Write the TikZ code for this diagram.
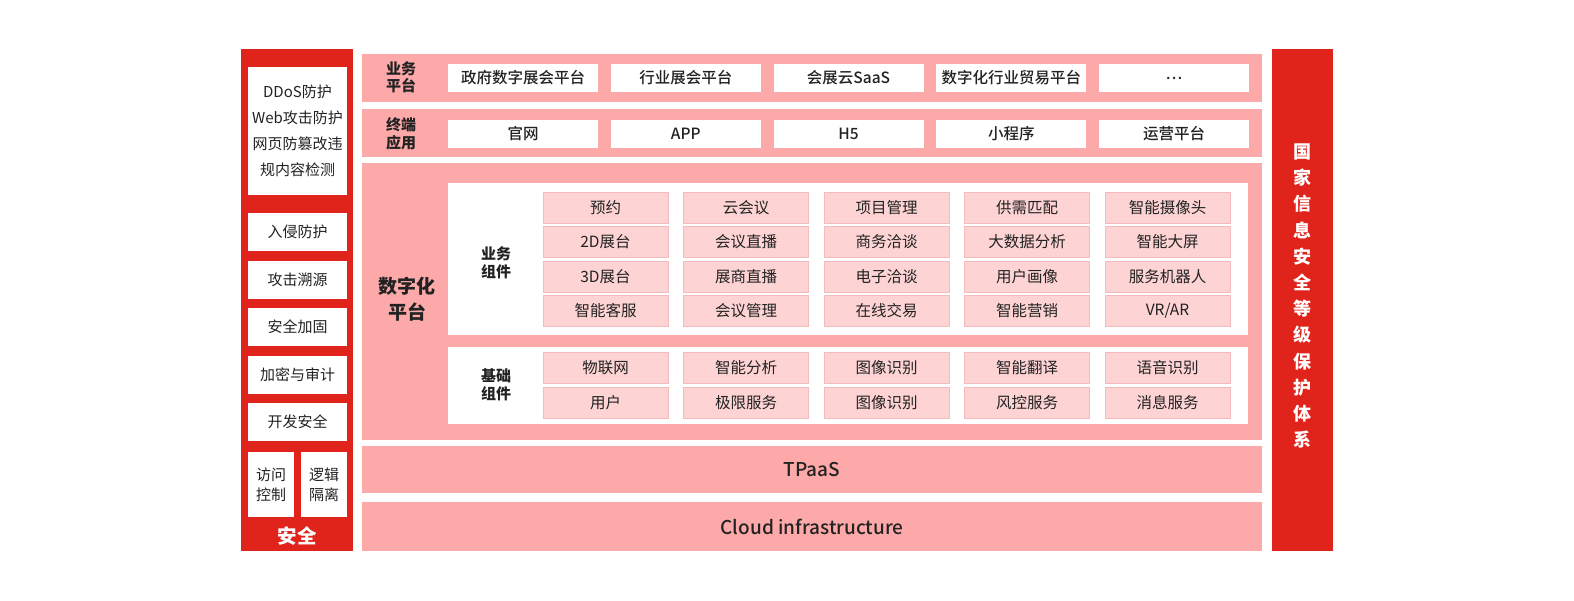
\documentclass[tikz,border=0pt]{standalone}
\usepackage{fontspec}
\setmainfont{Noto Sans CJK SC}
\setsansfont{Noto Sans CJK SC}
\newfontfamily\medfont{Noto Sans CJK SC Medium}
\usepackage{xcolor}
\usetikzlibrary{positioning}
\definecolor{secred}{HTML}{E0231B}
\definecolor{layerpink}{HTML}{FEA9A9}
\definecolor{cellpink}{HTML}{FDD3D3}
\definecolor{celledge}{HTML}{F3BBBB}
\definecolor{txt}{HTML}{222222}
\tikzset{
  redbar/.style={rectangle, fill=secred, inner sep=0pt, text=white,
                 font=\bfseries\fontsize{18pt}{26.2pt}\selectfont, align=center},
  layer/.style={rectangle, fill=layerpink, inner sep=0pt, minimum width=900pt,
                text=txt, font=\medfont\fontsize{19pt}{22pt}\selectfont},
  inpanel/.style={rectangle, fill=white, inner sep=0pt, minimum width=800pt},
  topbox/.style={rectangle, fill=white, inner sep=0pt, text=txt,
                 minimum width=150pt, minimum height=28pt,
                 font=\medfont\fontsize{15.5pt}{18pt}\selectfont},
  secbox/.style={rectangle, fill=white, inner sep=0pt, text=txt, align=center,
                 minimum width=99pt, minimum height=38pt,
                 font=\fontsize{15pt}{26pt}\selectfont},
  cell/.style={rectangle, fill=cellpink, draw=celledge, line width=0.8pt,
               inner sep=0pt, minimum width=125pt, minimum height=31pt,
               text=txt, font=\fontsize{15.5pt}{18pt}\selectfont},
  lbl/.style={text=txt, align=center, inner sep=0pt,
              font=\bfseries\fontsize{15pt}{18pt}\selectfont},
}

\begin{document}
\begin{tikzpicture}[x=1pt, y=-1pt]
  \useasboundingbox (0,0) rectangle (1574,600);
  %% Security column
  \node[redbar, minimum width=112pt, minimum height=502pt] (sec) at (297,300) {};
  \node[secbox, minimum height=128pt] (sec0) at (297.5,131)
    {DDoS防护\\Web攻击防护\\网页防篡改违\\规内容检测};
  \foreach \t [count=\i] in {入侵防护,攻击溯源,安全加固,加密与审计,开发安全}
    \node[secbox] (sec\i) at (297.5,{232+47.5*(\i-1)}) {\t};
  \node[secbox, minimum width=46pt, minimum height=65pt,
        font=\fontsize{15pt}{20pt}\selectfont] (acc) at (271,484.5) {访问\\控制};
  \node[secbox, minimum width=46pt, minimum height=65pt,
        font=\fontsize{15pt}{20pt}\selectfont] (iso) at (324,484.5) {逻辑\\隔离};
  \node[text=white, font=\bfseries\fontsize{19.5pt}{22pt}\selectfont] (seclbl)
    at (297,536) {安全};
  %% Protection column
  \node[redbar, minimum width=61pt, minimum height=502pt] (prot) at (1302.5,300) {};
  \node[redbar, fill=none] (protlbl) at (1302.5,296)
    {国\\家\\信\\息\\安\\全\\等\\级\\保\\护\\体\\系};
  %% Business platform row
  \node[layer, minimum height=48pt] (biz) at (812,78) {};
  \node[lbl, font=\bfseries\fontsize{15pt}{17.5pt}\selectfont] (bizlbl) at (401,77.5) {业务\\平台};
  \foreach \t [count=\i] in {政府数字展会平台,行业展会平台,会展云SaaS,数字化行业贸易平台,…}
    \node[topbox] (biz\i) at ({523+162.75*(\i-1)},78) {\t};
  %% Terminal row
  \node[layer, minimum height=48pt] (term) at (812,133) {};
  \node[lbl, font=\bfseries\fontsize{15pt}{18pt}\selectfont] (termlbl) at (401,134) {终端\\应用};
  \foreach \t [count=\i] in {官网,APP,H5,小程序,运营平台}
    \node[topbox] (term\i) at ({523+162.75*(\i-1)},134) {\t};
  %% Digital platform
  \node[layer, minimum height=277pt] (dig) at (812,301.5) {};
  \node[lbl, font=\bfseries\fontsize{19pt}{26pt}\selectfont] (diglbl) at (407,299) {数字化\\平台};
  \node[inpanel, minimum height=152pt] (bizcomp) at (848,259) {};
  \node[lbl] (bclbl) at (496,263) {业务\\组件};
  \foreach \row [count=\j] in {{预约,云会议,项目管理,供需匹配,智能摄像头},
      {2D展台,会议直播,商务洽谈,大数据分析,智能大屏},
      {3D展台,展商直播,电子洽谈,用户画像,服务机器人},
      {智能客服,会议管理,在线交易,智能营销,VR/AR}}
    \foreach \t [count=\i] in \row
      \node[cell] (bc\j-\i) at ({605.5+140.5*(\i-1)},{207.5+34.5*(\j-1)}) {\t};
  \node[inpanel, minimum height=77pt] (basecomp) at (848,385.5) {};
  \node[lbl] (jclbl) at (496,385) {基础\\组件};
  \foreach \row [count=\j] in {{物联网,智能分析,图像识别,智能翻译,语音识别},
      {用户,极限服务,图像识别,风控服务,消息服务}}
    \foreach \t [count=\i] in \row
      \node[cell] (jc\j-\i) at ({605.5+140.5*(\i-1)},{367.5+35.5*(\j-1)}) {\t};
  %% TPaaS and cloud
  \node[layer, minimum height=47pt] (tpaas) at (812,469.5) {TPaaS};
  \node[layer, minimum height=49pt] (cloud) at (812,526.5) {Cloud infrastructure};
\end{tikzpicture}
\end{document}
